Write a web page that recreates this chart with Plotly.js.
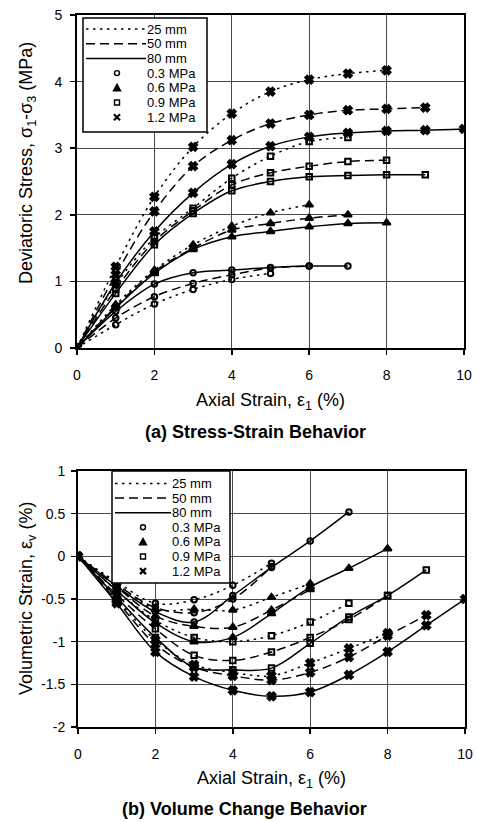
<!DOCTYPE html>
<html><head><meta charset="utf-8">
<script src="https://cdn.plot.ly/plotly-3.0.1.min.js"></script>
<style>html,body{margin:0;padding:0;background:#fff}#chart{width:478px;height:822px}</style>
</head><body><div id="chart"></div>
<script>
// ---------- data ----------
const strain = [0, 1, 2, 3, 4, 5, 6, 7, 8, 9, 10];
const lengths = ['25 mm', '50 mm', '80 mm'];
const pressures = ['0.3 MPa', '0.6 MPa', '0.9 MPa', '1.2 MPa'];

// (a) deviatoric stress (MPa)
const dev_03_25 = [0, 0.35, 0.66, 0.88, 1.03, 1.12];
const dev_03_50 = [0, 0.45, 0.77, 0.97, 1.10, 1.20, 1.23];
const dev_03_80 = [0, 0.55, 0.96, 1.13, 1.17, 1.21, 1.23, 1.23];
const dev_06_25 = [0, 0.65, 1.17, 1.55, 1.83, 2.03, 2.15];
const dev_06_50 = [0, 0.62, 1.15, 1.50, 1.77, 1.87, 1.95, 2.00];
const dev_06_80 = [0, 0.60, 1.12, 1.48, 1.67, 1.75, 1.82, 1.87, 1.88];
const dev_09_25 = [0, 0.95, 1.65, 2.10, 2.55, 2.88, 3.10, 3.16];
const dev_09_50 = [0, 0.88, 1.60, 2.06, 2.45, 2.63, 2.73, 2.80, 2.82];
const dev_09_80 = [0, 0.82, 1.55, 2.02, 2.36, 2.50, 2.57, 2.59, 2.60, 2.60];
const dev_12_25 = [0, 1.22, 2.27, 3.02, 3.52, 3.85, 4.03, 4.12, 4.17];
const dev_12_50 = [0, 1.10, 2.05, 2.73, 3.12, 3.37, 3.50, 3.57, 3.59, 3.61];
const dev_12_80 = [0, 0.98, 1.75, 2.33, 2.76, 3.03, 3.17, 3.23, 3.26, 3.27, 3.29];

// (b) volumetric strain (%)
const vol_03_25 = [0, -0.30, -0.55, -0.51, -0.34, -0.08];
const vol_03_50 = [0, -0.33, -0.60, -0.66, -0.50, -0.12];
const vol_03_80 = [0, -0.35, -0.65, -0.77, -0.46, -0.13, 0.18, 0.52];
const vol_06_25 = [0, -0.32, -0.62, -0.62, -0.63, -0.48, -0.32];
const vol_06_50 = [0, -0.36, -0.70, -0.82, -0.83, -0.63, -0.39];
const vol_06_80 = [0, -0.40, -0.78, -1.00, -0.95, -0.67, -0.36, -0.14, 0.09];
const vol_09_25 = [0, -0.40, -0.75, -0.95, -1.00, -0.93, -0.77, -0.55];
const vol_09_50 = [0, -0.45, -0.85, -1.16, -1.22, -1.12, -0.95, -0.74, -0.46];
const vol_09_80 = [0, -0.48, -0.95, -1.30, -1.33, -1.31, -1.02, -0.71, -0.46, -0.16];
const vol_12_25 = [0, -0.50, -0.98, -1.27, -1.36, -1.40, -1.25, -1.08, -0.90];
const vol_12_50 = [0, -0.52, -1.03, -1.30, -1.40, -1.45, -1.36, -1.18, -0.93, -0.69];
const vol_12_80 = [0, -0.55, -1.12, -1.41, -1.57, -1.64, -1.59, -1.39, -1.12, -0.81, -0.50];

const devTicks = [0, 1, 2, 3, 4, 5];
const volTickVals = [-2, -1.5, -1, -0.5, 0, 0.5, 1];
const volTickText = ['-2', '-1.5', '-1', '-0.5', '0', '0.5', '1'];
const strainTicks = [0, 2, 4, 6, 8, 10];

// ---------- styles ----------
const W = 478, H = 822;
const dashes = {'25 mm': '2.5px,4.5px', '50 mm': '9px,5px', '80 mm': 'solid'};
const symbols = {'0.3 MPa': 'circle-open', '0.6 MPa': 'triangle-up', '0.9 MPa': 'square-open', '1.2 MPa': 'x'};
const msizes = {'0.3 MPa': 5.5, '0.6 MPa': 7, '0.9 MPa': 5.5, '1.2 MPa': 7};

const devSeries = [
  [dev_03_25, dev_03_50, dev_03_80],
  [dev_06_25, dev_06_50, dev_06_80],
  [dev_09_25, dev_09_50, dev_09_80],
  [dev_12_25, dev_12_50, dev_12_80]
];
const volSeries = [
  [vol_03_25, vol_03_50, vol_03_80],
  [vol_06_25, vol_06_50, vol_06_80],
  [vol_09_25, vol_09_50, vol_09_80],
  [vol_12_25, vol_12_50, vol_12_80]
];

const traces = [];
function addSet(series, xa, ya, tag) {
  pressures.forEach((p, i) => {
    lengths.forEach((L, j) => {
      const ys = series[i][j];
      traces.push({
        type: 'scatter', mode: 'lines+markers',
        name: tag + ' ' + L + ' ' + p,
        x: strain.slice(0, ys.length), y: ys,
        xaxis: xa, yaxis: ya, showlegend: false, hoverinfo: 'x+y+name',
        line: {color: '#000', width: 1.5, dash: dashes[L], shape: 'spline', smoothing: 1},
        marker: {symbol: symbols[p], size: msizes[p], color: '#000', line: {color: '#000', width: 2}}
      });
    });
  });
}
addSet(devSeries, 'x', 'y', '(a)');
addSet(volSeries, 'x2', 'y2', '(b)');

const px = v => v / W;
const py = v => 1 - v / H;

const axisCommon = {
  showgrid: true, gridcolor: '#4a4a4a', gridwidth: 1,
  showline: true, linecolor: '#000', linewidth: 2, mirror: true,
  ticks: 'outside', ticklen: 5, tickwidth: 1.5, tickcolor: '#000',
  zeroline: false, tickfont: {size: 14, color: '#000'}, fixedrange: true
};

// ---------- legend (drawn with shapes + annotations) ----------
const shapes = [];
const annotations = [];
function legend(box, rowY0, rowStep, lineX0, lineX1, markX, textX) {
  shapes.push({type: 'rect', xref: 'paper', yref: 'paper', x0: px(box[0]), x1: px(box[1]), y0: py(box[2]), y1: py(box[3]),
    line: {color: '#000', width: 1.5}, fillcolor: '#fff', layer: 'above'});
  lengths.forEach((L, i) => {
    const y = rowY0 + i * rowStep;
    shapes.push({type: 'line', xref: 'paper', yref: 'paper', x0: px(lineX0), x1: px(lineX1), y0: py(y), y1: py(y),
      line: {color: '#000', width: 1.5, dash: dashes[L]}, layer: 'above'});
    annotations.push({xref: 'paper', yref: 'paper', x: px(textX), y: py(y), xanchor: 'left', yanchor: 'middle',
      text: L, showarrow: false, borderpad: 0, font: {size: 13, color: '#000'}});
  });
  pressures.forEach((p, k) => {
    const y = rowY0 + (k + 3) * rowStep;
    const r = 2.5;
    const base = {xref: 'paper', yref: 'paper', layer: 'above', line: {color: '#000', width: 1.4}};
    if (k === 0) shapes.push(Object.assign({type: 'circle', x0: px(markX - r), x1: px(markX + r), y0: py(y - r), y1: py(y + r), fillcolor: '#fff'}, base));
    if (k === 1) shapes.push(Object.assign({type: 'path', path: `M${px(markX - 3.5)},${py(y + 3)} L${px(markX + 3.5)},${py(y + 3)} L${px(markX)},${py(y - 3.5)} Z`, fillcolor: '#000'}, base));
    if (k === 2) shapes.push(Object.assign({type: 'rect', x0: px(markX - r), x1: px(markX + r), y0: py(y - r), y1: py(y + r), fillcolor: '#fff'}, base));
    if (k === 3) shapes.push(Object.assign({type: 'path', path: `M${px(markX - 3)},${py(y - 3)} L${px(markX + 3)},${py(y + 3)} M${px(markX - 3)},${py(y + 3)} L${px(markX + 3)},${py(y - 3)}`},
      {xref: 'paper', yref: 'paper', layer: 'above', line: {color: '#000', width: 2.2}}));
    annotations.push({xref: 'paper', yref: 'paper', x: px(textX), y: py(y), xanchor: 'left', yanchor: 'middle',
      text: p, showarrow: false, borderpad: 0, font: {size: 13, color: '#000'}});
  });
}
legend([83, 207, 18, 132], 29, 14.7, 86, 146, 117, 146);
legend([112, 230, 471, 583], 483.5, 14.6, 115, 171, 143, 171);

// ---------- titles ----------
function label(text, x, y, size, angle) {
  annotations.push({xref: 'paper', yref: 'paper', x: px(x), y: py(y), xanchor: 'center', yanchor: 'middle',
    text: text, showarrow: false, textangle: angle || 0, font: {size: size, color: '#000'}});
}
label('Axial Strain, ε<sub>1</sub> (%)', 270, 401, 18);
label('<b>(a) Stress-Strain Behavior</b>', 256, 432, 18);
label('Deviatoric Stress, σ<sub>1</sub>-σ<sub>3</sub> (MPa)', 27, 163, 18, -90);
label('Axial Strain, ε<sub>1</sub> (%)', 271, 779, 18);
label('<b>(b) Volume Change Behavior</b>', 244, 809, 18);
label('Volumetric Strain, ε<sub>v</sub> (%)', 27, 599, 18, -90);

const layout = {
  width: W, height: H, margin: {l: 0, r: 0, t: 0, b: 0},
  paper_bgcolor: '#fff', plot_bgcolor: '#fff', showlegend: false,
  font: {family: 'Liberation Sans, Arial, sans-serif', color: '#000'},
  xaxis: Object.assign({}, axisCommon, {domain: [px(77), px(464)], range: [0, 10], tickvals: strainTicks, anchor: 'y', ticklabelstandoff: 8}),
  yaxis: Object.assign({}, axisCommon, {domain: [py(348), py(15)], range: [0, 5], tickvals: devTicks, anchor: 'x', ticklabelstandoff: 5}),
  xaxis2: Object.assign({}, axisCommon, {domain: [px(78), px(465)], range: [0, 10], tickvals: strainTicks, anchor: 'y2', ticklabelstandoff: 8}),
  yaxis2: Object.assign({}, axisCommon, {domain: [py(727), py(471)], range: [-2, 1], tickvals: volTickVals, ticktext: volTickText, anchor: 'x2', ticklabelstandoff: 3}),
  shapes: shapes, annotations: annotations
};

Plotly.newPlot('chart', traces, layout, {displayModeBar: false, staticPlot: true});
</script>
</body></html>
